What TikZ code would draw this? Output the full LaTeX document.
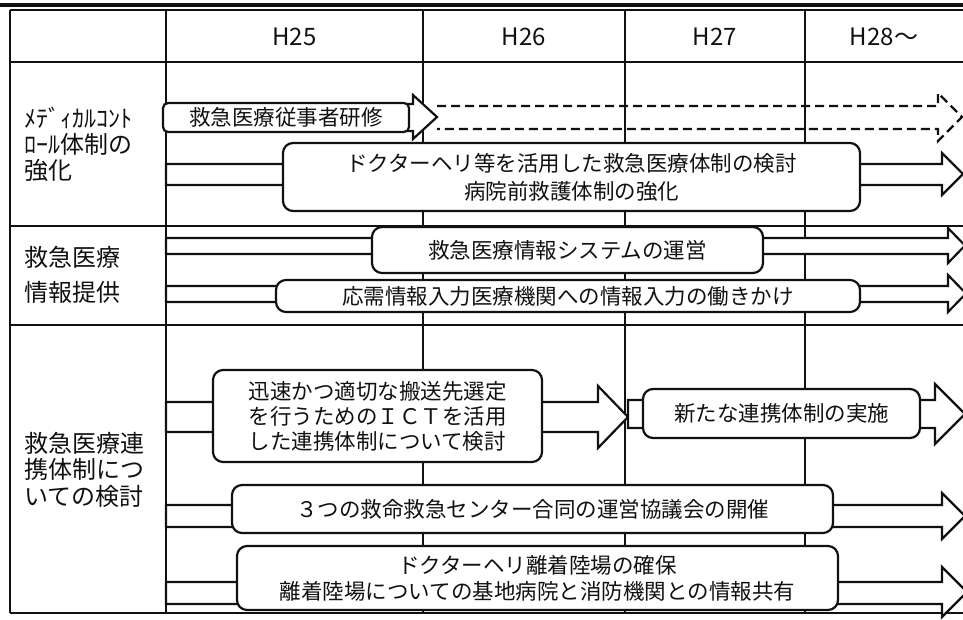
\documentclass[tikz,border=0pt]{standalone}
\usepackage{fontspec}
\setmainfont{Noto Sans CJK JP}
\usetikzlibrary{positioning}
\usepackage{xcolor}
\definecolor{cInk}{HTML}{111111}
\tikzset{
  tablerule/.style={draw=cInk, line width=#1},
  tablerule/.default=2pt,
  planbox/.style={
    draw=cInk, fill=white, rounded corners=#1,
    line width=2.2pt, inner sep=0pt,
    font=\fontsize{21.5pt}{26pt}\selectfont, text=cInk,
    align=center,
  },
  planbox/.default=10pt,
  blockarrow/.style={draw=cInk, fill=white, line width=2.2pt, line join=miter},
  planarrow/.style={draw=cInk, line width=2.2pt, dash pattern=on 9pt off 5pt},
  yearlabel/.style={font=\fontsize{24pt}{26pt}\selectfont, text=cInk},
  rowlabel/.style={font=\fontsize{24pt}{26pt}\selectfont, text=cInk,
    align=left, inner sep=0pt, anchor=west},
}

\begin{document}
\begin{tikzpicture}[x=1pt, y=-1pt]
  \useasboundingbox (0,0) rectangle (963,619);

  % Table frame
  \draw[tablerule=4pt] (0,4.5) -- (963,4.5);
  \draw[tablerule=1.4pt] (10,10) -- (963,10);
  \draw[tablerule] (10,62) -- (963,62);
  \draw[tablerule] (10,226) -- (963,226);
  \draw[tablerule] (10,325) -- (963,325);
  \draw[tablerule=2.4pt] (10,613) -- (963,613);
  \draw[tablerule=2.4pt] (10,10) -- (10,613);
  \draw[tablerule] (166,10) -- (166,613);
  \foreach \cx in {423,625,805}
    \draw[tablerule=1.2pt] (\cx,10) -- (\cx,613);

  % Year headers
  \node[yearlabel] (h25) at (294.5,37) {H25};
  \node[yearlabel] (h26) at (524,37) {H26};
  \node[yearlabel] (h27) at (715,37) {H27};
  \node[yearlabel] (h28) at (884,37) {H28～};

  % Row labels
  \node[rowlabel] (mclabel) at (24,144) {ﾒﾃﾞｨｶﾙｺﾝﾄ\\ﾛｰﾙ体制の\\強化};
  \node[rowlabel, font=\fontsize{24pt}{35pt}\selectfont] (infolabel) at (24,274.5)
    {救急医療\\情報提供};
  \node[rowlabel, font=\fontsize{24pt}{26.5pt}\selectfont] (coolabel) at (24,469.5)
    {救急医療連\\携体制につ\\いての検討};

  % Block arrows
  \draw[blockarrow] (390,104) -- (413,104) -- (413,95) -- (437,117)
    -- (413,139) -- (413,131) -- (390,131) -- cycle;
  \draw[planarrow] (437,106) -- (938,106) -- (938,93) -- (962,117)
    -- (938,141) -- (938,129) -- (437,129);
  \draw[blockarrow] (166,164) -- (942,164) -- (942,153) -- (963,174)
    -- (942,195) -- (942,185) -- (166,185) -- cycle;
  \draw[blockarrow] (166,238) -- (948,238) -- (948,228) -- (965,245.5)
    -- (948,263) -- (948,254) -- (166,254) -- cycle;
  \draw[blockarrow] (166,286) -- (948,286) -- (948,275) -- (966,293.5)
    -- (948,312) -- (948,302) -- (166,302) -- cycle;
  \draw[blockarrow] (166,402) -- (598,402) -- (598,386) -- (628,417)
    -- (598,448) -- (598,432) -- (166,432) -- cycle;
  \draw[blockarrow] (628,400) -- (935,400) -- (935,384) -- (965,414)
    -- (935,444) -- (935,428) -- (628,428) -- cycle;
  \draw[blockarrow] (166,505) -- (942,505) -- (942,493) -- (965,516)
    -- (942,539) -- (942,527) -- (166,527) -- cycle;
  \draw[blockarrow] (166,582) -- (942,582) -- (942,567) -- (967,592)
    -- (942,617) -- (942,604) -- (166,604) -- cycle;

  % Task boxes
  \node[planbox=5pt, minimum width=246pt, minimum height=29pt]
    (kenshu) at (286,117.5) {救急医療従事者研修};
  \node[planbox, minimum width=577pt, minimum height=68pt,
        font=\fontsize{21.5pt}{28pt}\selectfont]
    (heli) at (571.5,177) {ドクターヘリ等を活用した救急医療体制の検討\\病院前救護体制の強化};
  \node[planbox, minimum width=391pt, minimum height=46pt]
    (system) at (567.5,250) {救急医療情報システムの運営};
  \node[planbox, minimum width=584pt, minimum height=32pt]
    (ouju) at (568,296) {応需情報入力医療機関への情報入力の働きかけ};
  \node[planbox, minimum width=329pt, minimum height=92pt, align=left,
        font=\fontsize{21.5pt}{25pt}\selectfont]
    (ict) at (377.5,416) {迅速かつ適切な搬送先選定\\を行うためのＩＣＴを活用\\した連携体制について検討};
  \node[planbox, minimum width=277pt, minimum height=49pt]
    (renkei) at (781.5,413.5) {新たな連携体制の実施};
  \node[planbox, minimum width=601pt, minimum height=48pt]
    (kyogi) at (532.5,509) {３つの救命救急センター合同の運営協議会の開催};
  \node[planbox, minimum width=601pt, minimum height=64pt]
    (heliport) at (537.5,578) {ドクターヘリ離着陸場の確保\\離着陸場についての基地病院と消防機関との情報共有};

\end{tikzpicture}
\end{document}
